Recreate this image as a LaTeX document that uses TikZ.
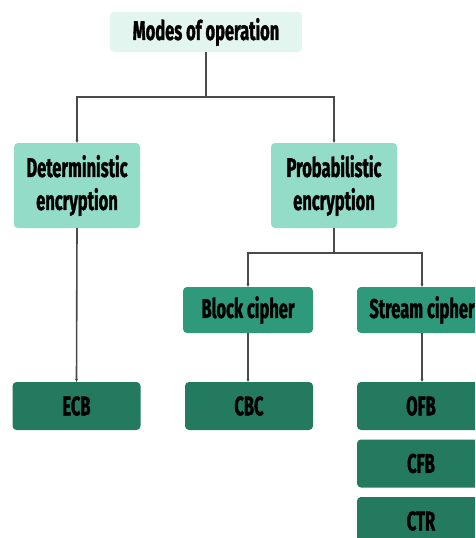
\documentclass[tikz,border=0pt]{standalone}
\usepackage{fontspec}
\setsansfont{Fira Sans}[FakeStretch=0.61,BoldFeatures={FakeBold=1.2}]
\usetikzlibrary{arrows.meta,positioning}
\definecolor{topmint}{HTML}{E2F5EF}
\definecolor{midmint}{HTML}{93DCC8}
\definecolor{ciphergreen}{HTML}{2F9A7B}
\definecolor{modegreen}{HTML}{237A5F}
\definecolor{linegray}{HTML}{4A4A4A}
\tikzstyle{box} = [rounded corners=4pt,inner sep=0pt,align=center,
  font=\sffamily\bfseries\fontsize{27}{33}\selectfont]
\tikzstyle{top box} = [box,fill=topmint,minimum width=192,minimum height=40]
\tikzstyle{enc box} = [box,fill=midmint,minimum width=126,minimum height=85]
\tikzstyle{cipher box} = [box,fill=ciphergreen,minimum width=130,minimum height=46]
\tikzstyle{mode box} = [box,fill=modegreen,minimum width=128,minimum height=48]
\tikzstyle{line} = [linegray,line width=1.6pt]
\tikzstyle{line>} = [line,-{Stealth[length=3pt,width=3pt]}]

\begin{document}
\begin{tikzpicture}[x=1pt,y=-1pt]
        \useasboundingbox (0,0) rectangle (475,538);
        \clip (0,0) rectangle (475,538);
        % draw boxes
        \node[top box] (modes) at (206,32) {Modes of operation};
        \node[enc box] (det) at (77,185.5) {Deterministic\\encryption};
        \node[enc box] (prob) at (334,185.5) {Probabilistic\\encryption};
        \node[cipher box] (block) at (248,310) {Block cipher};
        \node[cipher box] (stream) at (422,310) {Stream cipher};
        \node[mode box] (ecb) at (76.5,406) {ECB};
        \node[mode box] (cbc) at (249,406) {CBC};
        \node[mode box] (ofb) at (421,406) {OFB};
        \node[mode box] (cfb) at (421,463.5) {CFB};
        \node[mode box] (ctr) at (421,521) {CTR};
        
        % draw connectors
        \coordinate (split top) at (206,97);
        \coordinate (split prob) at (334,253);
        \draw[line] (modes.south) -- (split top);
        \draw[line>] (split top) -| (det.north);
        \draw[line>] (split top) -| (prob.north);
        \draw[line] (prob.south) -- (split prob);
        \draw[line>] (split prob) -| (block.north);
        \draw[line>] (split prob) -| (stream.north);
        \draw[line>] (det.south) -- (ecb.north);
        \draw[line>] (block.south) -- (cbc.north -| block.south);
        \draw[line>] (stream.south) -- (ofb.north -| stream.south);
\end{tikzpicture}
\end{document}
